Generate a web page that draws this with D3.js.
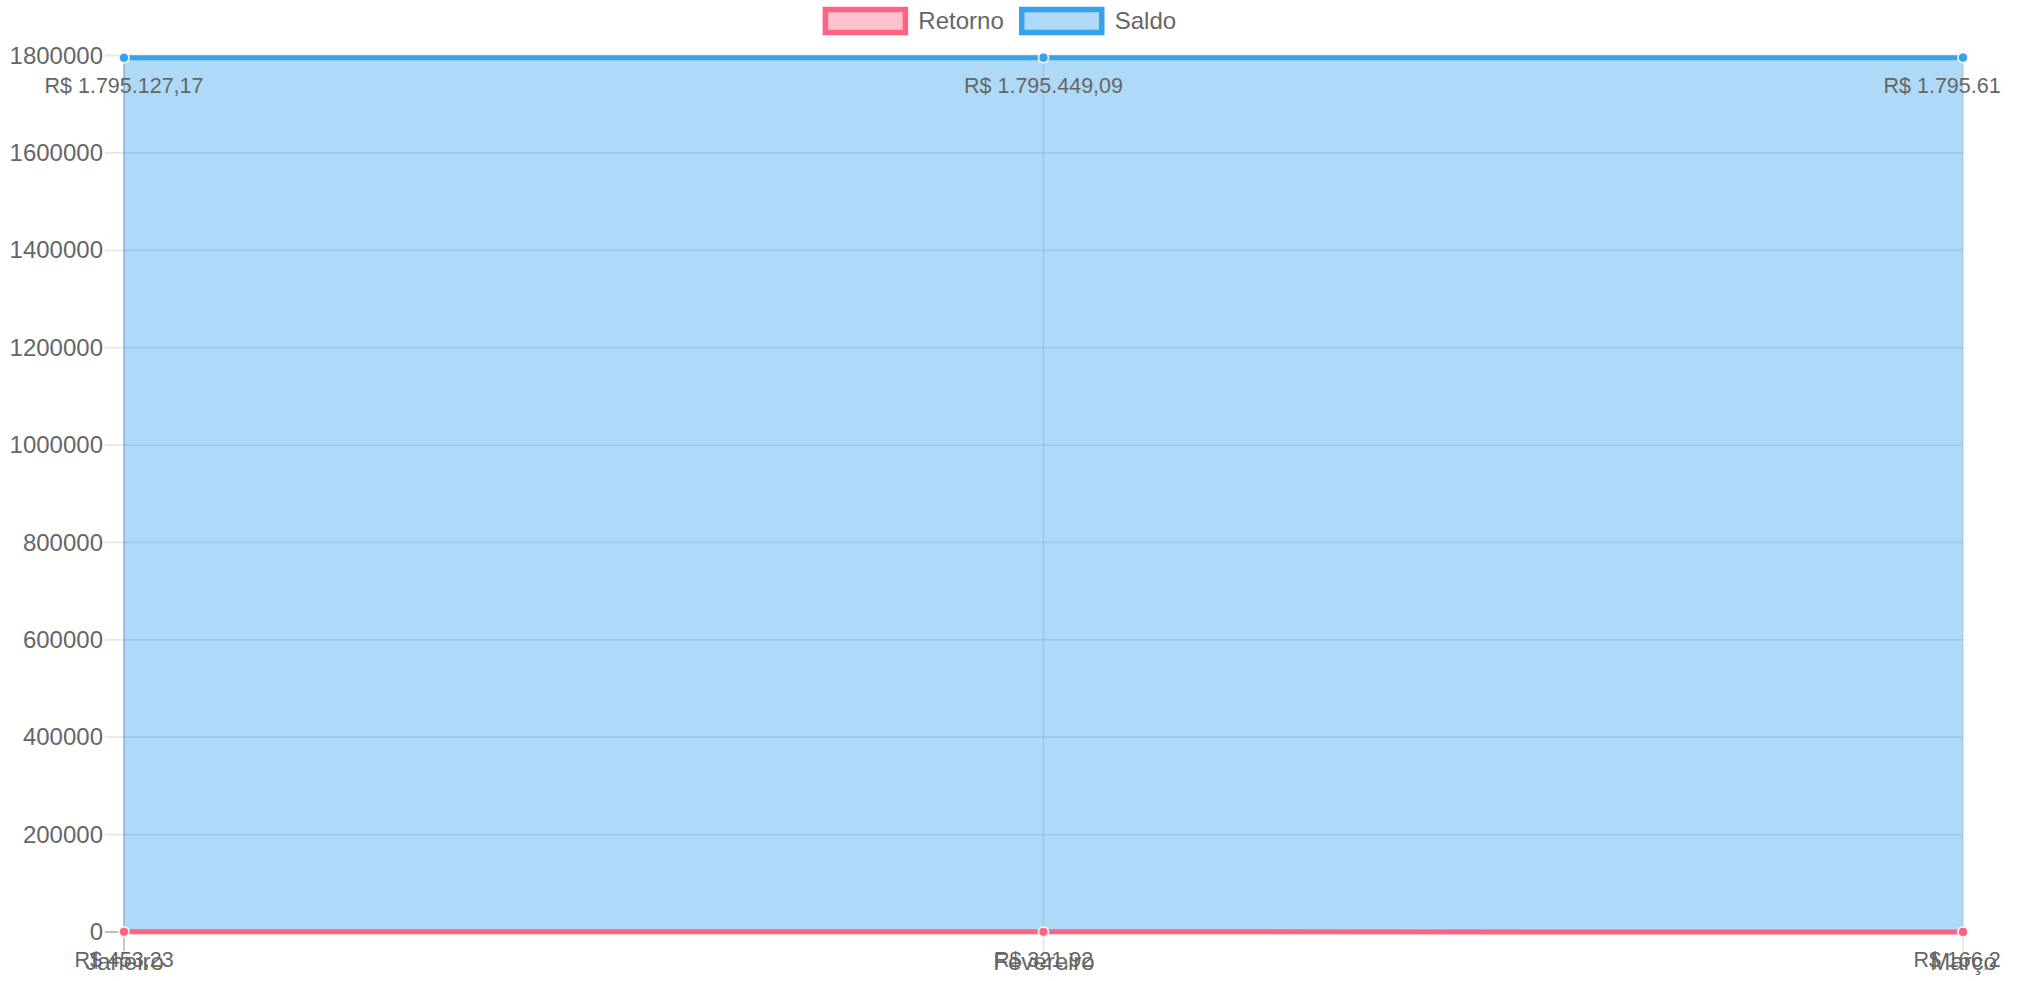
<!DOCTYPE html>
<html>
<head>
<meta charset="utf-8">
<script src="https://cdn.jsdelivr.net/npm/d3@7"></script>
<style>
  html, body { margin: 0; padding: 0; background: #fff; }
  svg { display: block; font-family: "Liberation Sans", Arial, sans-serif; }
</style>
</head>
<body>
<svg id="chart" width="2028" height="981"></svg>
<script>
// ---- data ----
const categories = ["Janeiro", "Fevereiro", "Março"];
const retorno = [453.23, 321.92, 166.25];
const saldo = [1795127.17, 1795449.09, 1795615.38];
const yTicks = [0, 200000, 400000, 600000, 800000, 1000000, 1200000, 1400000, 1600000, 1800000];
const seriesNames = ["Retorno", "Saldo"];

// ---- layout ----
const W = 2028, H = 981, canvasW = 2002;
const plotLeft = 124, plotRight = 1963, plotTop = 55.5, plotBottom = 932;
const tickLen = 19;
const axisFont = 24, labelFont = 21.5;

const svg = d3.select("#chart");
svg.append("defs").append("clipPath").attr("id", "canvasClip")
  .append("rect").attr("x", 0).attr("y", 0).attr("width", canvasW).attr("height", H);
const root = svg.append("g").attr("clip-path", "url(#canvasClip)");

const x = d3.scalePoint().domain(categories).range([plotLeft, plotRight]);
const y = d3.scaleLinear().domain([0, 1800000]).range([plotBottom, plotTop]);

const colors = {
  Retorno: { line: "rgb(255,99,132)", fill: "rgba(255,99,132,0.4)" },
  Saldo: { line: "rgb(54,162,235)", fill: "rgba(54,162,235,0.4)" }
};
const series = [
  { name: "Retorno", values: retorno },
  { name: "Saldo", values: saldo }
];

// ---- grid lines ----
const grid = root.append("g");
grid.selectAll("line.h").data(yTicks).enter().append("line")
  .attr("x1", plotLeft - tickLen).attr("x2", plotRight)
  .attr("y1", d => y(d)).attr("y2", d => y(d))
  .attr("stroke", d => d === 0 ? "rgba(0,0,0,0.25)" : "rgba(0,0,0,0.1)")
  .attr("stroke-width", 1.8);
grid.selectAll("line.v").data(categories).enter().append("line")
  .attr("x1", d => x(d)).attr("x2", d => x(d))
  .attr("y1", plotTop).attr("y2", plotBottom + tickLen)
  .attr("stroke", (d, i) => i === 0 ? "rgba(0,0,0,0.25)" : "rgba(0,0,0,0.1)")
  .attr("stroke-width", 1.8);

// ---- axes (labels) ----
const yAxis = root.append("g").attr("transform", `translate(${plotLeft},0)`)
  .call(d3.axisLeft(y).tickValues(yTicks).tickFormat(d3.format("d")).tickSize(0).tickPadding(tickLen + 2));
yAxis.select(".domain").remove();
yAxis.selectAll("text").attr("font-size", axisFont).attr("fill", "#666")
  .attr("font-family", "'Liberation Sans', Arial, sans-serif");

const xAxis = root.append("g").attr("transform", `translate(0,${plotBottom})`)
  .call(d3.axisBottom(x).tickSize(0).tickPadding(tickLen + 2));
xAxis.select(".domain").remove();
xAxis.selectAll("text").attr("font-size", axisFont).attr("fill", "#666")
  .attr("font-family", "'Liberation Sans', Arial, sans-serif");

// ---- series (drawn in reverse order like Chart.js) ----
const area = d3.area().x((d, i) => x(categories[i])).y0(y(0)).y1(d => y(d));
const line = d3.line().x((d, i) => x(categories[i])).y(d => y(d));

series.slice().reverse().forEach(s => {
  const g = root.append("g");
  g.append("path").datum(s.values).attr("d", area)
    .attr("fill", colors[s.name].fill);
  g.append("path").datum(s.values).attr("d", line)
    .attr("fill", "none").attr("stroke", colors[s.name].line).attr("stroke-width", 5);
  g.selectAll("circle").data(s.values).enter().append("circle")
    .attr("cx", (d, i) => x(categories[i])).attr("cy", d => y(d))
    .attr("r", 5).attr("fill", colors[s.name].line)
    .attr("stroke", "rgba(255,255,255,0.85)").attr("stroke-width", 1.8);
});

// ---- data labels ----
const brl = d3.formatLocale({ decimal: ",", thousands: ".", grouping: [3], currency: ["R$ ", ""] }).format("$,.2f");
series.forEach(s => {
  root.append("g").selectAll("text").data(s.values).enter().append("text")
    .attr("x", (d, i) => x(categories[i])).attr("y", d => y(d) + 35)
    .attr("text-anchor", "middle").attr("font-size", labelFont).attr("fill", "#666")
    .text(d => brl(d));
});

// ---- legend ----
const legend = root.append("g");
const boxW = 80, boxH = 23, legendCenter = 998;
const items = legend.selectAll("g").data(seriesNames).enter().append("g");
items.append("rect").attr("width", boxW).attr("height", boxH).attr("y", 9.5)
  .attr("fill", d => colors[d].fill).attr("stroke", d => colors[d].line).attr("stroke-width", 5.5);
items.append("text").attr("x", boxW + 13).attr("y", 29)
  .attr("font-size", axisFont).attr("fill", "#666").text(d => d);
let widths = [];
items.each(function () { widths.push(boxW + 13 + this.querySelector("text").getComputedTextLength()); });
const gap = 18;
const total = d3.sum(widths) + gap * (widths.length - 1);
let cursor = legendCenter - total / 2 + 2.75;
items.attr("transform", (d, i) => {
  const t = `translate(${cursor},0)`;
  cursor += widths[i] + gap;
  return t;
});
</script>
</body>
</html>
